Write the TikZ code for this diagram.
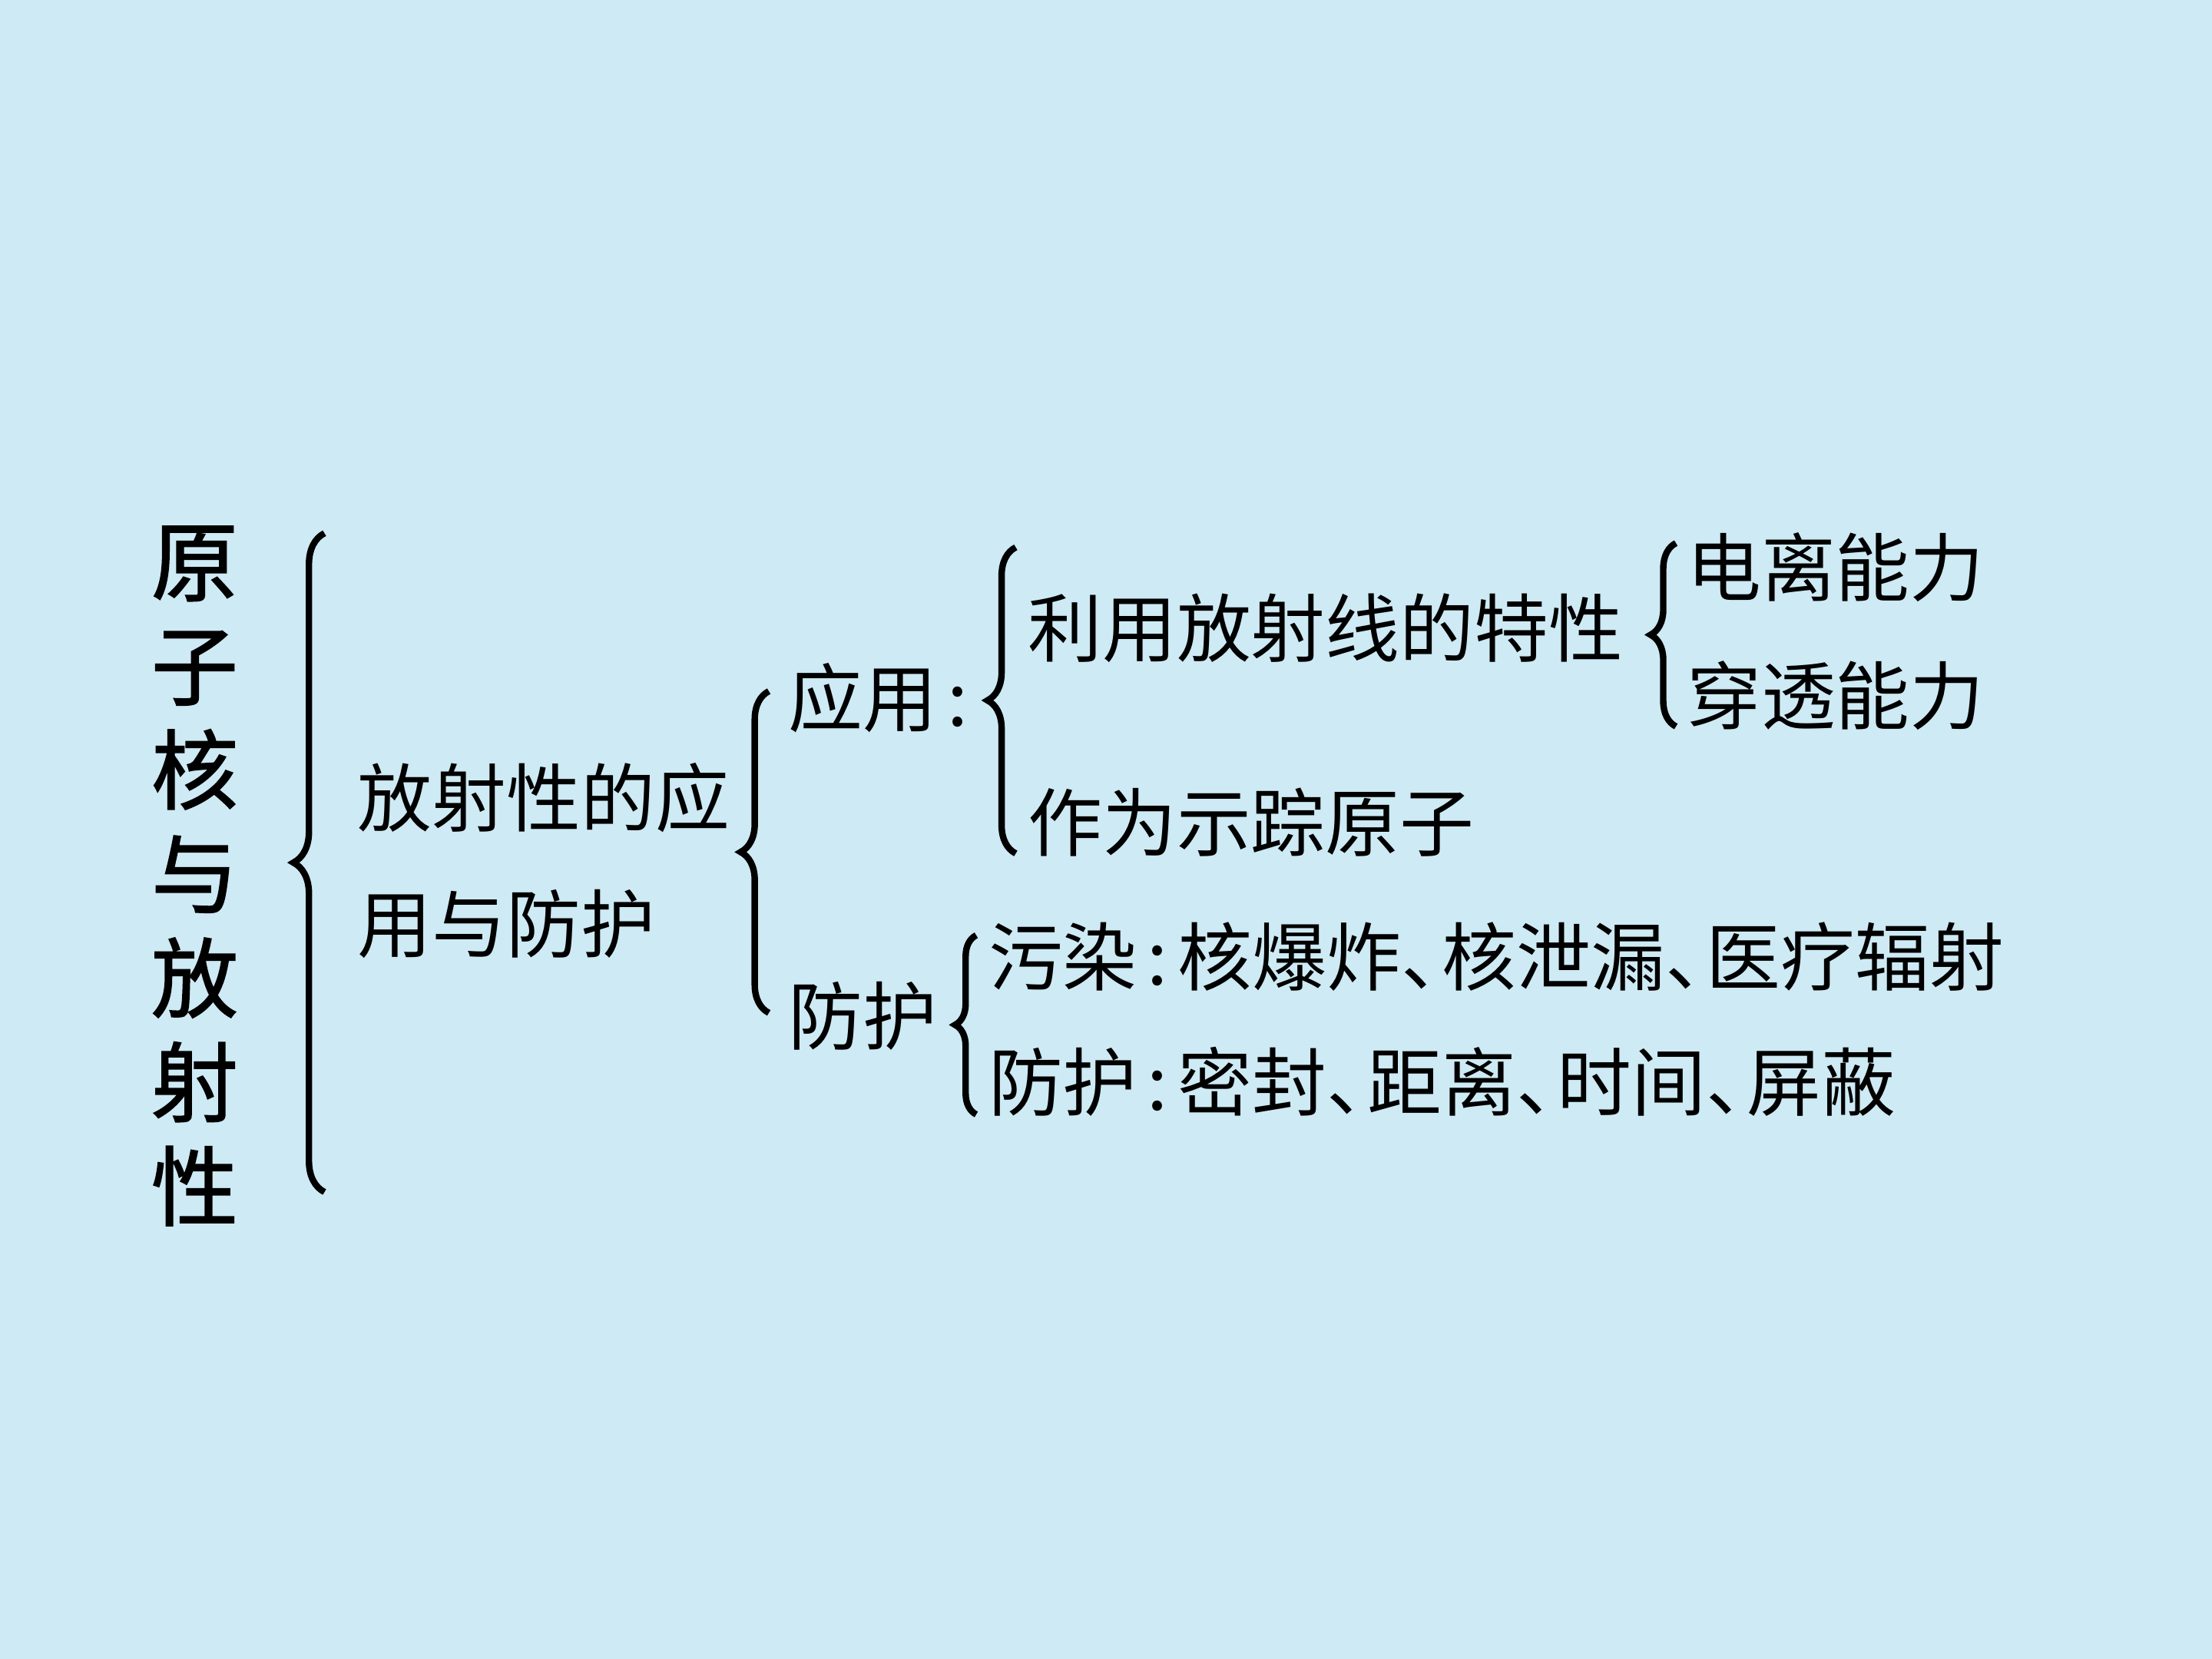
\documentclass[tikz,border=0pt]{standalone}
\usepackage{fontspec}
\setmainfont{Noto Sans CJK SC}
\newfontfamily\titlefont{Noto Sans CJK SC}[FakeBold=1.5]
\usetikzlibrary{decorations.pathreplacing,positioning}
\definecolor{bgblue}{RGB}{206,234,244}
\newcommand{\cjkcomma}{\makebox[0.55em][l]{、}}
\newcommand{\cjkcolon}{\makebox[0.55em][c]{:}}

\begin{document}
\begin{tikzpicture}[every node/.style={font=\fontsize{15pt}{18pt}\selectfont, inner sep=0pt, anchor=west},
        bracel/.style={decorate, decoration={brace, amplitude=#1}, line width=1.3pt}]
    \fill[bgblue] (0,0) rectangle (15.68,11.76);
    \node[anchor=center, align=center, font=\fontsize{17.5pt}{21pt}\titlefont] (title) at (1.38,5.55) {原\\子\\核\\与\\放\\射\\性};
    \node[align=left, font=\fontsize{15pt}{25.5pt}\selectfont] (usage) at (2.53,5.66) {放射性的应\\用与防护};
    \node (apply) at (5.58,6.81) {应用\cjkcolon};
    \node (protect) at (5.58,4.56) {防护};
    \node (feature) at (7.28,7.31) {利用放射线的特性};
    \node (tracer) at (7.28,5.93) {作为示踪原子};
    \node (ionize) at (11.95,7.74) {电离能力};
    \node (penetrate) at (11.95,6.83) {穿透能力};
    \node (pollute) at (7.00,4.98) {污染\cjkcolon 核爆炸\cjkcomma 核泄漏\cjkcomma 医疗辐射};
    \node (shield) at (7.00,4.09) {防护\cjkcolon 密封\cjkcomma 距离\cjkcomma 时间\cjkcomma 屏蔽};
    % braces
    \draw[bracel=0.22cm] (2.30,3.31) -- (2.30,7.98);
    \draw[bracel=0.2cm] (5.45,4.58) -- (5.45,6.86);
    \draw[bracel=0.2cm] (7.20,5.71) -- (7.20,7.88);
    \draw[bracel=0.18cm] (11.88,6.61) -- (11.88,7.91);
    \draw[bracel=0.15cm] (6.92,3.86) -- (6.92,5.13);
\end{tikzpicture}
\end{document}
